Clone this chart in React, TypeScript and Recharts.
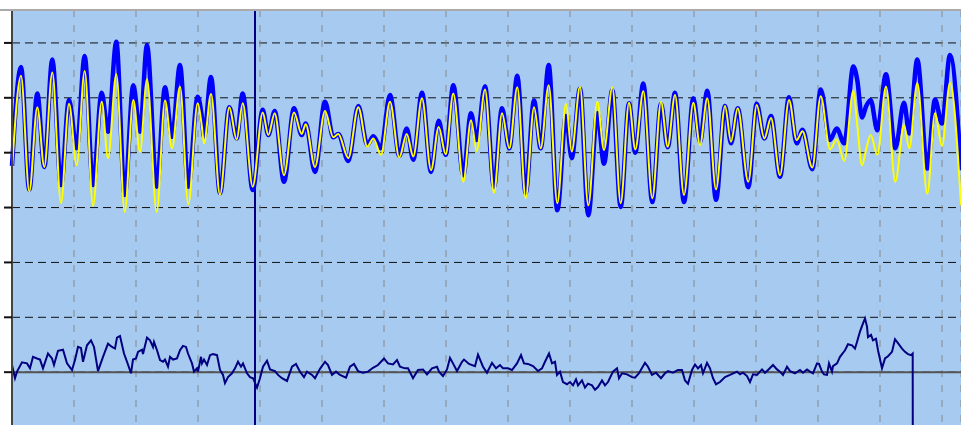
import { LineChart, Line, XAxis, YAxis, CartesianGrid, ReferenceLine } from 'recharts';

// sample index of each extremum of the two wave traces
const waveSamples = [
  0, 9, 17.3, 25.3, 32.3, 40.3, 49, 57, 64.7, 72.7, 81, 89.7, 96, 104.3, 112.7, 121.3, 128, 135, 144.7, 153,
  160, 168, 176.3, 185.7, 189.7, 192, 199, 208, 217.3, 224.7, 230.7, 240.7, 250.7, 256.3, 262.7, 272, 282, 289.7, 293.7, 303,
  313, 321.3, 326.3, 336.3, 346.3, 355.3, 361.3, 369, 378, 387.3, 394.7, 401.3, 410, 419, 426.7, 433.7, 441.3, 451.3, 459, 464.7,
  473, 482, 490, 497.3, 505.3, 513.7, 522, 528.7, 536.7, 545.3, 554, 559.7, 568, 576.3, 585.3, 592, 600.3, 608.7, 617, 623.3,
  631.3, 640.3, 649, 655.7, 663, 672, 681.3, 688, 695.3, 704, 713, 719, 725.7, 736.3, 744.7, 752.3, 759, 768, 777, 784.7,
  790.5, 800.3, 808.7, 818, 824.7, 832.3, 841.3, 845.3, 850, 854, 858.7, 865.3, 874, 883.3, 892, 897.3, 905.3, 915.3, 923, 930,
  938, 949,
];

const measured = [
  3.76, 5.56, 3.32, 5.08, 3.74, 5.70, 3.41, 4.96, 4.08, 5.76, 3.41, 5.09, 4.38, 6.02, 3.23, 5.23, 4.38, 5.96, 3.38, 5.19,
  4.29, 5.60, 3.38, 5.02, 4.67, 4.29, 5.38, 3.26, 4.83, 4.26, 5.08, 3.32, 4.78, 4.32, 4.76, 3.47, 4.81, 4.32, 4.53, 3.65,
  4.93, 4.28, 4.34, 3.85, 4.85, 4.14, 4.30, 4.08, 5.05, 3.94, 4.44, 3.87, 5.09, 3.65, 4.58, 3.96, 5.23, 3.59, 4.72, 4.23,
  5.21, 3.38, 4.81, 4.08, 5.40, 3.26, 4.95, 4.08, 5.60, 2.95, 4.67, 3.90, 5.17, 2.86, 4.72, 3.80, 5.14, 3.01, 4.90, 4.00,
  5.26, 3.10, 4.89, 4.10, 5.09, 3.10, 4.99, 4.20, 5.13, 3.14, 4.85, 4.17, 4.81, 3.37, 4.89, 4.26, 4.67, 3.56, 5.01, 4.17,
  4.42, 3.70, 5.15, 4.23, 4.44, 4.17, 5.57, 5.32, 4.64, 4.84, 4.96, 4.41, 5.43, 4.08, 4.91, 4.35, 5.70, 3.71, 4.97, 4.53,
  5.78, 3.68,
];

const filtered = [
  3.68, 5.40, 3.29, 4.83, 3.74, 5.46, 3.08, 4.89, 3.77, 5.49, 3.03, 4.93, 3.90, 5.43, 2.92, 4.96, 4.02, 5.34, 2.92, 4.95,
  4.08, 5.20, 3.06, 4.90, 4.50, 4.17, 5.07, 3.23, 4.83, 4.24, 4.90, 3.38, 4.73, 4.32, 4.72, 3.59, 4.73, 4.34, 4.52, 3.74,
  4.76, 4.28, 4.34, 3.90, 4.83, 4.11, 4.26, 3.96, 4.93, 3.91, 4.34, 3.93, 4.99, 3.68, 4.47, 3.97, 5.08, 3.47, 4.59, 4.03,
  5.15, 3.27, 4.72, 4.08, 5.19, 3.17, 4.83, 4.08, 5.23, 3.08, 4.89, 4.02, 5.20, 3.04, 4.93, 4.05, 5.19, 3.08, 4.91, 4.06,
  5.12, 3.17, 4.93, 4.11, 5.05, 3.23, 4.91, 4.14, 4.99, 3.33, 4.85, 4.20, 4.81, 3.47, 4.87, 4.26, 4.63, 3.59, 4.96, 4.23,
  4.39, 3.73, 5.03, 4.06, 4.24, 3.85, 5.13, 4.50, 3.77, 4.05, 4.32, 3.96, 5.20, 3.47, 4.50, 4.08, 5.27, 3.25, 4.72, 4.12,
  5.27, 3.04,
];

const diffSamples = [
  0, 3, 5, 10, 15, 18, 21, 25, 28, 31, 36, 40, 42, 46, 51, 55, 60, 63, 66, 69,
  71, 75, 79, 82, 86, 91, 96, 100, 103, 105, 108, 112, 115, 119, 121, 124, 126, 130, 131, 135,
  138, 141, 142, 145, 148, 151, 153, 156, 158, 161, 165, 168, 171, 174, 176, 180, 182, 185, 186, 189,
  190, 192, 195, 198, 201, 205, 208, 211, 213, 216, 220, 223, 226, 229, 231, 235, 238, 241, 245, 248,
  251, 255, 258, 263, 266, 270, 275, 280, 284, 288, 292, 295, 300, 303, 308, 313, 316, 320, 324, 328,
  334, 338, 342, 346, 351, 356, 361, 366, 372, 376, 381, 385, 388, 393, 396, 401, 406, 411, 415, 420,
  425, 427, 431, 435, 438, 441, 445, 450, 452, 457, 463, 466, 471, 475, 480, 484, 488, 491, 496, 500,
  505, 509, 512, 516, 521, 526, 530, 533, 537, 540, 543, 545, 548, 551, 555, 558, 561, 564, 566, 570,
  573, 576, 580, 583, 586, 590, 593, 596, 601, 605, 607, 610, 615, 620, 623, 627, 633, 636, 640, 644,
  649, 653, 656, 661, 666, 670, 673, 676, 680, 683, 686, 689, 691, 695, 698, 701, 704, 708, 713, 718,
  725, 728, 731, 735, 738, 741, 745, 750, 753, 756, 761, 765, 768, 771, 775, 778, 783, 788, 791, 795,
  798, 801, 805, 807, 810, 812, 815, 817, 820, 821, 825, 828, 831, 833, 836, 840, 843, 845, 848, 851,
  853, 855, 856, 859, 861, 864, 866, 870, 873, 876, 880, 883, 886, 890, 893, 896, 899, 900.7, 900.8,
];

const diffValues = [
  0.13, -0.11, 0.01, 0.18, 0.16, 0.07, 0.28, 0.25, 0.23, 0.07, 0.34, 0.25, 0.13, 0.39, 0.41, 0.16, 0.04, 0.22, 0.46, 0.44,
  0.19, 0.49, 0.58, 0.46, 0.02, 0.28, 0.52, 0.46, 0.43, 0.63, 0.66, 0.34, 0.19, -0.02, 0.23, 0.25, 0.37, 0.41, 0.33, 0.63,
  0.58, 0.46, 0.55, 0.40, 0.22, 0.19, 0.23, 0.10, 0.28, 0.23, 0.25, 0.40, 0.48, 0.46, 0.34, 0.16, 0.01, 0.07, 0.01, 0.28,
  0.16, 0.23, 0.13, 0.31, 0.33, 0.31, 0.04, -0.05, -0.20, -0.09, -0.02, 0.07, 0.19, 0.10, 0.16, -0.02, -0.09, -0.11, -0.28, -0.11,
  0.10, 0.21, 0.05, 0.02, -0.05, -0.11, -0.16, 0.10, 0.15, 0.01, -0.09, 0.01, -0.05, -0.11, 0.06, 0.19, 0.13, -0.05, 0.01, -0.05,
  -0.10, 0.10, 0.15, 0.02, -0.01, 0.01, 0.08, 0.13, 0.25, 0.16, 0.14, 0.22, 0.10, 0.07, 0.07, -0.11, 0.04, 0.05, -0.04, 0.07,
  0.10, 0.01, -0.07, 0.05, 0.26, 0.16, 0.02, 0.19, 0.23, 0.15, 0.11, 0.32, 0.10, -0.01, 0.17, 0.07, 0.13, 0.07, 0.07, 0.04,
  0.16, 0.31, 0.16, 0.15, 0.11, 0.02, 0.07, 0.19, 0.34, 0.16, 0.19, -0.05, 0.01, -0.18, -0.22, -0.18, -0.24, -0.13, -0.24, -0.15,
  -0.28, -0.21, -0.24, -0.32, -0.27, -0.15, -0.24, -0.18, 0.01, 0.07, -0.11, -0.02, -0.04, -0.09, -0.10, -0.02, 0.17, 0.10, -0.05, -0.01,
  -0.11, -0.02, 0.02, -0.01, 0.04, 0.04, -0.15, -0.21, 0.04, 0.14, 0.07, 0.13, -0.02, 0.17, 0.07, -0.11, -0.22, -0.18, -0.09, -0.05,
  0.01, -0.04, -0.01, -0.07, -0.18, -0.04, -0.05, 0.05, -0.01, 0.04, 0.13, 0.05, 0.01, -0.05, 0.10, 0.02, -0.02, 0.04, -0.01, 0.05,
  0.01, -0.02, 0.16, 0.15, 0.01, -0.04, -0.05, 0.16, 0.01, 0.11, 0.16, 0.28, 0.35, 0.40, 0.51, 0.49, 0.43, 0.55, 0.74, 0.89,
  0.98, 0.83, 0.64, 0.68, 0.58, 0.61, 0.40, 0.07, 0.25, 0.29, 0.37, 0.60, 0.53, 0.43, 0.37, 0.33, 0.31, 0.34, -1.4,
];

const sampleTicks = [62, 124, 186, 248, 310, 372, 434, 496, 558, 620, 682, 744, 806, 868, 930];
const levelTicks = [0, 1, 2, 3, 4, 5, 6];
const cursorSample = 243;

const measuredData = waveSamples.map((x, i) => ({ x, v: measured[i] }));
const filteredData = waveSamples.map((x, i) => ({ x, v: filtered[i] }));
const diffData = diffSamples.map((x, i) => ({ x, v: diffValues[i] }));

// no tick labels, only tick marks
const NoLabel = () => <g />;

export default function App() {
  return (
    <div style={{ position: 'fixed', left: 0, top: 0, width: 961, height: 425, overflow: 'hidden', background: '#fff' }}>
      <LineChart width={961} height={449} margin={{ top: 10, right: 0, bottom: 0, left: 0 }}>
        <XAxis
          type="number"
          dataKey="x"
          domain={[0, 949]}
          ticks={sampleTicks}
          interval={0}
          height={0}
          tick={NoLabel}
          tickLine={false}
          axisLine={false}
        />
        <YAxis
          type="number"
          dataKey="v"
          domain={[-1.4, 6.6]}
          allowDataOverflow
          ticks={levelTicks}
          interval={0}
          width={12}
          tick={NoLabel}
          tickSize={8}
          tickLine={{ stroke: '#111', strokeWidth: 2 }}
          axisLine={{ stroke: '#444', strokeWidth: 2 }}
        />
        <CartesianGrid
          vertical={false}
          fill="#a6caf0"
          stroke="#111"
          strokeDasharray="8 5"
        />
        <CartesianGrid horizontal={false} stroke="#888" strokeDasharray="7 8" />
        <ReferenceLine y={0} stroke="#555" strokeWidth={2} />
        <ReferenceLine x={cursorSample} stroke="#000080" strokeWidth={2} />
        <Line
          data={measuredData}
          dataKey="v"
          type="monotone"
          stroke="#0000ff"
          strokeWidth={4.5}
          dot={false}
          activeDot={false}
          isAnimationActive={false}
        />
        <Line
          data={filteredData}
          dataKey="v"
          type="monotone"
          stroke="#ffff00"
          strokeWidth={2}
          dot={false}
          activeDot={false}
          isAnimationActive={false}
        />
        <Line
          data={diffData}
          dataKey="v"
          type="linear"
          stroke="#000080"
          strokeWidth={2}
          dot={false}
          activeDot={false}
          isAnimationActive={false}
        />
      </LineChart>
      <div style={{ position: 'absolute', left: 0, top: 9, width: 961, height: 2, background: '#aaa' }} />
    </div>
  );
}
